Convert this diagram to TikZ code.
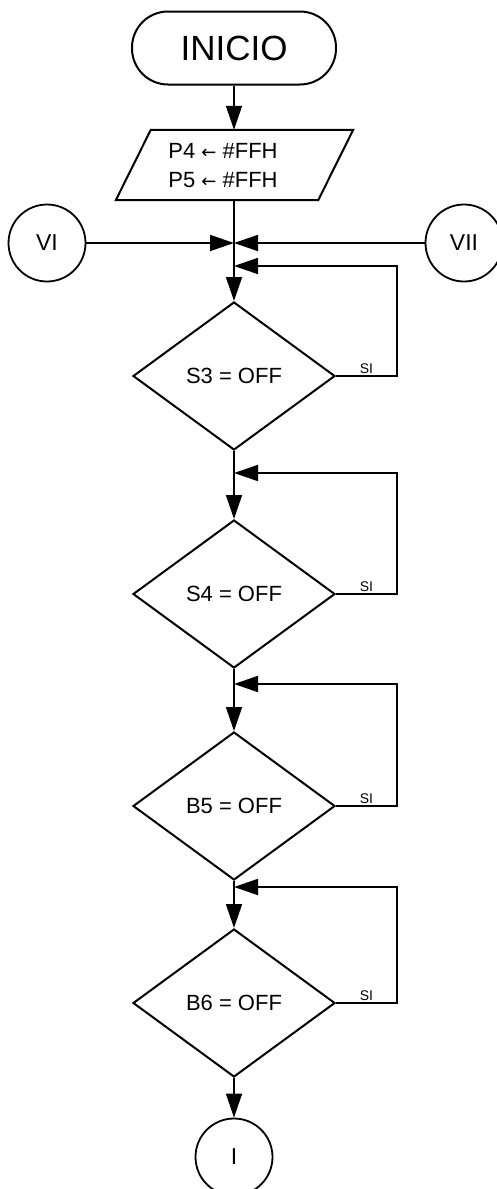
\documentclass[tikz,border=0pt]{standalone}
\usepackage{fontspec}
\setmainfont{Liberation Sans}
\newfontfamily\arrowfont{DejaVu Sans}
\usetikzlibrary{arrows.meta,shapes.geometric,calc}
\begin{document}
\begin{tikzpicture}[x=1pt,y=-1pt,
  shp/.style={draw, line width=2pt},
  dec/.style={shp, diamond, minimum width=202pt, minimum height=148pt, inner sep=0pt, font=\fontsize{22}{26}\selectfont},
  conn/.style={draw, circle, line width=1.8pt, minimum size=77pt, inner sep=0pt, font=\fontsize{23}{26}\selectfont},
  arr/.style={line width=1.7pt, -{Triangle[length=24pt,width=16pt]}},
  si/.style={font=\fontsize{14}{16}\selectfont, inner sep=2pt}]
\useasboundingbox (0,0) rectangle (497,1189);
\node[shp, rounded corners=36pt, minimum width=204pt, minimum height=73pt, inner sep=0pt, font=\fontsize{35}{40}\selectfont] (start) at (234,48) {INICIO};
\node[minimum width=202pt, minimum height=70pt, inner sep=0pt] (io) at (234,165) {};
\node[align=left, inner sep=0pt, font=\fontsize{22}{29}\selectfont] (iotext) at (223,166) {P4 {\arrowfont\fontsize{18}{20}\selectfont ←} \#FFH\\P5 {\arrowfont\fontsize{18}{20}\selectfont ←} \#FFH};
\draw[shp] ($(io.north west)+(18,0)$) -- ($(io.north east)+(18,0)$) -- ($(io.south east)+(-17,0)$) -- ($(io.south west)+(-17,0)$) -- cycle;
\node[conn] (vi) at (47,243) {VI};
\node[conn] (vii) at (464,243) {VII};
\coordinate (j1) at (234,243);
\coordinate (j2) at (234,266);
\node[dec] (s3) at (234,376) {S3 = OFF};
\coordinate (j3) at (234,473);
\node[dec] (s4) at (234,594) {S4 = OFF};
\coordinate (j4) at (234,684);
\node[dec] (b5) at (234,806) {B5 = OFF};
\coordinate (j5) at (234,887);
\node[dec] (b6) at (234,1003) {B6 = OFF};
\node[conn] (c1) at (234,1157) {I};
% connectors
\draw[arr] (start.south) -- (io.north);
\draw[line width=1.7pt] (io.south) -- (j1);
\draw[arr] (j1) -- (s3.north);
\draw[arr] (vi) -- (j1);
\draw[arr] (vii) -- (j1);
\draw[arr] (s3.east) -- ++(61,0) node[midway, above, si] {SI} |- (j2);
\draw[arr] (s3.south) -- (s4.north);
\draw[arr] (s4.east) -- ++(61,0) node[midway, above, si] {SI} |- (j3);
\draw[arr] (s4.south) -- (b5.north);
\draw[arr] (b5.east) -- ++(61,0) node[midway, above, si] {SI} |- (j4);
\draw[arr] (b5.south) -- (b6.north);
\draw[arr] (b6.east) -- ++(61,0) node[midway, above, si] {SI} |- (j5);
\draw[arr] (b6.south) -- (c1.north);
\end{tikzpicture}
\end{document}
